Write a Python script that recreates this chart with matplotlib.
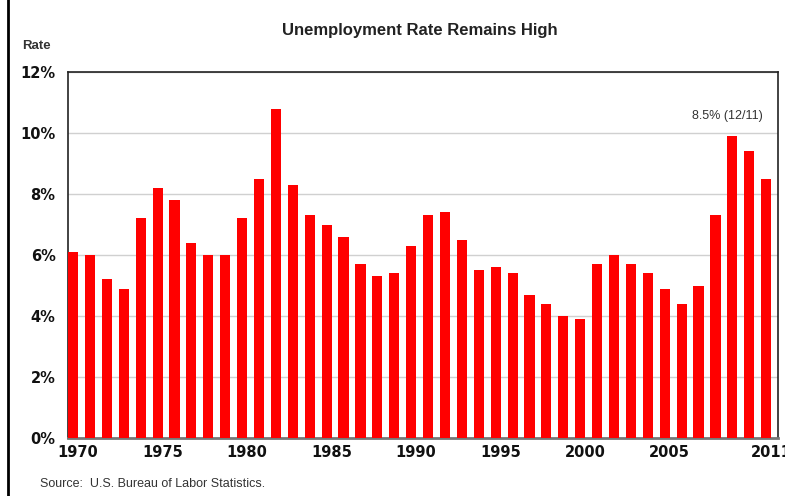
import matplotlib
matplotlib.use("Agg")
import matplotlib.pyplot as plt
from matplotlib.lines import Line2D

years = list(range(1970, 2012))
rates = [6.1, 6.0, 5.2, 4.9, 7.2, 8.2, 7.8, 6.4, 6.0, 6.0,
         7.2, 8.5, 10.8, 8.3, 7.3, 7.0, 6.6, 5.7, 5.3, 5.4,
         6.3, 7.3, 7.4, 6.5, 5.5, 5.6, 5.4, 4.7, 4.4, 4.0,
         3.9, 5.7, 6.0, 5.7, 5.4, 4.9, 4.4, 5.0, 7.3, 9.9,
         9.4, 8.5]
tick_years = [1970, 1975, 1980, 1985, 1990, 1995, 2000, 2005, 2011]
y_ticks = [0, 2, 4, 6, 8, 10, 12]

fig = plt.figure(figsize=(7.85, 4.96), dpi=100)
ax = fig.add_axes([68 / 785, 1 - 438 / 496, 710 / 785, 366 / 496])

pos = [y - 1970 for y in years]
ax.bar(pos, rates, width=0.6, align="edge", color="#ff0000", zorder=3)

ax.set_xlim(0, 42)
ax.set_ylim(0, 12)
ax.set_yticks(y_ticks)
ax.set_yticklabels([f"{v}%" for v in y_ticks], fontsize=10.5, fontweight="bold",
                   family="DejaVu Sans", color="#111111")
ax.set_xticks([y - 1970 + 0.58 for y in tick_years])
ax.set_xticklabels([str(y) for y in tick_years], fontsize=10.5, fontweight="bold",
                   family="DejaVu Sans", color="#111111")
ax.tick_params(axis="both", length=0)
ax.tick_params(axis="x", pad=5)
ax.tick_params(axis="y", pad=9)
ax.grid(axis="y", color="#d0d0d0", linewidth=1, zorder=0)

for side in ["top", "right", "left"]:
    ax.spines[side].set_color("#222222")
    ax.spines[side].set_linewidth(1.2)
ax.spines["bottom"].set_color("#777777")
ax.spines["bottom"].set_linewidth(2)

fig.text(420 / 785, 1 - 31 / 496, "Unemployment Rate Remains High", ha="center",
         va="center", fontsize=12, fontweight="bold", color="#222222",
         family="Liberation Sans")
fig.text(22 / 785, 1 - 46 / 496, "Rate", ha="left", va="center", fontsize=9.5,
         fontweight="bold", color="#333333", family="Liberation Sans")
ax.text(41.1, 10.55, "8.5% (12/11)", ha="right", va="center", fontsize=9,
        color="#333333", family="Liberation Sans")
fig.text(40 / 785, 1 - 484 / 496, "Source:  U.S. Bureau of Labor Statistics.",
         ha="left", va="center", fontsize=9, color="#333333",
         family="Liberation Sans")

fig.add_artist(Line2D([7.5 / 785, 7.5 / 785], [0, 1], transform=fig.transFigure,
                      color="black", linewidth=2))

fig.savefig("out.png", dpi=100)
